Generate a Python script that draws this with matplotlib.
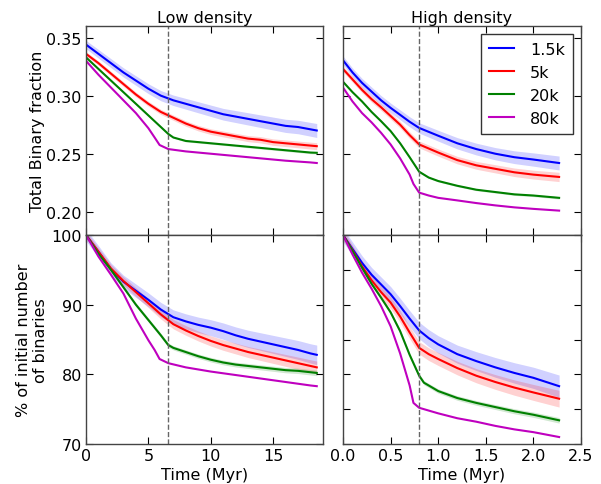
import numpy as np
import matplotlib
matplotlib.use("Agg")
import matplotlib.pyplot as plt
from matplotlib.ticker import MultipleLocator

labels = ["1.5k", "5k", "20k", "80k"]
colors = ["#0000ff", "#ff0000", "#008000", "#bf00bf"]
band_alpha = [0.18, 0.18, 0.18, 0.0]

# ---------- Low density: binary fraction ----------
lt_bf = [
    [0, 1, 2, 3, 4, 5, 6, 7, 8, 9, 10, 11, 12, 13, 14, 15, 16, 17, 18, 18.5],
    [0, 1, 2, 3, 4, 5, 6, 7, 8, 9, 10, 11, 12, 13, 14, 15, 16, 17, 18, 18.5],
    [0, 1, 2, 3, 4, 5, 6, 6.6, 7, 8, 9, 10, 11, 12, 13, 14, 15, 16, 17, 18, 18.5],
    [0, 1, 2, 3, 4, 5, 5.5, 5.9, 6.6, 8, 10, 12, 14, 16, 18, 18.5],
]
low_bf = [
    [0.344, 0.336, 0.328, 0.320, 0.313, 0.306, 0.300, 0.296, 0.293, 0.290, 0.287,
     0.284, 0.282, 0.280, 0.278, 0.276, 0.274, 0.273, 0.271, 0.270],
    [0.336, 0.328, 0.319, 0.310, 0.301, 0.293, 0.286, 0.281, 0.276, 0.272, 0.269,
     0.267, 0.265, 0.263, 0.262, 0.260, 0.259, 0.258, 0.257, 0.2565],
    [0.333, 0.323, 0.313, 0.303, 0.293, 0.283, 0.273, 0.267, 0.264, 0.261, 0.260,
     0.259, 0.258, 0.257, 0.256, 0.255, 0.254, 0.253, 0.252, 0.251, 0.2508],
    [0.330, 0.318, 0.307, 0.296, 0.285, 0.272, 0.264, 0.2575, 0.254, 0.252, 0.250,
     0.248, 0.246, 0.244, 0.2425, 0.242],
]
low_bf_err = [0.006, 0.003, 0.001, 0.0]

# ---------- Low density: % of initial binaries ----------
low_pc = [
    [100, 97.6, 95.1, 93.3, 92.0, 90.7, 89.3, 88.2, 87.6, 87.1, 86.7,
     86.2, 85.6, 85.1, 84.7, 84.3, 83.9, 83.5, 83.0, 82.8],
    [100, 97.6, 95.2, 93.4, 91.8, 90.2, 88.6, 87.2, 86.3, 85.5, 84.8,
     84.2, 83.7, 83.2, 82.8, 82.4, 82.0, 81.6, 81.2, 81.0],
    [100, 97.3, 95.0, 92.5, 90.0, 87.8, 85.6, 84.2, 83.8, 83.2, 82.6,
     82.1, 81.7, 81.4, 81.2, 81.0, 80.8, 80.6, 80.5, 80.3, 80.2],
    [100, 96.9, 94.3, 91.6, 88.0, 84.9, 83.5, 82.2, 81.6, 81.0, 80.4,
     79.9, 79.4, 78.9, 78.4, 78.3],
]
low_pc_err = [1.4, 0.9, 0.4, 0.0]

# ---------- High density: binary fraction ----------
ht_bf = [
    [0, 0.1, 0.2, 0.3, 0.4, 0.5, 0.6, 0.7, 0.8, 1.0, 1.2, 1.4, 1.6, 1.8, 2.0, 2.27],
    [0, 0.1, 0.2, 0.3, 0.4, 0.5, 0.6, 0.7, 0.8, 1.0, 1.2, 1.4, 1.6, 1.8, 2.0, 2.27],
    [0, 0.1, 0.2, 0.3, 0.4, 0.5, 0.6, 0.7, 0.8, 0.9, 1.0, 1.2, 1.4, 1.6, 1.8, 2.0, 2.27],
    [0, 0.1, 0.2, 0.3, 0.4, 0.5, 0.6, 0.7, 0.74, 0.8, 0.9, 1.0, 1.2, 1.4, 1.6, 1.8, 2.0, 2.27],
]
high_bf = [
    [0.3305, 0.320, 0.311, 0.3035, 0.296, 0.2895, 0.2835, 0.2775, 0.2722, 0.2655, 0.259,
     0.254, 0.250, 0.247, 0.245, 0.242],
    [0.323, 0.314, 0.305, 0.297, 0.290, 0.2825, 0.275, 0.266, 0.258, 0.251, 0.2445,
     0.240, 0.237, 0.234, 0.232, 0.230],
    [0.312, 0.303, 0.295, 0.286, 0.278, 0.2695, 0.259, 0.247, 0.2345, 0.2295, 0.2265,
     0.2224, 0.219, 0.217, 0.215, 0.214, 0.212],
    [0.307, 0.295, 0.285, 0.277, 0.268, 0.258, 0.246, 0.232, 0.224, 0.2165, 0.214,
     0.212, 0.2098, 0.2075, 0.2055, 0.2038, 0.2025, 0.201],
]
high_bf_err = [0.006, 0.004, 0.001, 0.0]

# ---------- High density: % of initial binaries ----------
hp_t = [
    [0, 0.1, 0.2, 0.3, 0.4, 0.5, 0.6, 0.7, 0.8, 0.9, 1.0, 1.2, 1.4, 1.6, 1.8, 2.0, 2.27],
    [0, 0.1, 0.2, 0.3, 0.4, 0.5, 0.6, 0.7, 0.8, 0.9, 1.0, 1.2, 1.4, 1.6, 1.8, 2.0, 2.27],
    [0, 0.1, 0.2, 0.3, 0.4, 0.5, 0.6, 0.7, 0.8, 0.85, 1.0, 1.2, 1.4, 1.6, 1.8, 2.0, 2.27],
    [0, 0.1, 0.2, 0.3, 0.4, 0.5, 0.6, 0.7, 0.74, 0.8, 0.9, 1.0, 1.2, 1.4, 1.6, 1.8, 2.0, 2.27],
]
high_pc = [
    [100, 98.0, 96.0, 94.3, 92.9, 91.5, 89.8, 88.0, 86.3, 85.2, 84.3, 82.9, 81.9,
     81.0, 80.2, 79.5, 78.3],
    [100, 97.8, 95.5, 93.5, 91.8, 90.3, 88.3, 86.0, 83.8, 82.9, 82.2, 80.9, 79.8,
     78.9, 78.1, 77.4, 76.5],
    [100, 97.7, 95.3, 93.0, 91.0, 88.9, 86.2, 82.8, 79.8, 78.8, 77.6, 76.6, 75.9,
     75.3, 74.7, 74.2, 73.4],
    [100, 97.2, 94.6, 92.3, 89.8, 86.9, 83.0, 78.4, 75.9, 75.2, 74.8, 74.4, 73.7,
     73.2, 72.6, 72.1, 71.7, 71.0],
]
high_pc_err = [1.6, 1.2, 0.4, 0.0]

t_low_mark = 6.6
t_high_mark = 0.80

FS = 11.5
plt.rcParams.update({
    "font.family": "DejaVu Sans",
    "font.size": FS,
    "xtick.direction": "in",
    "ytick.direction": "in",
    "xtick.top": True,
    "ytick.right": True,
    "xtick.major.size": 5,
    "ytick.major.size": 5,
    "xtick.major.pad": 3,
    "ytick.major.pad": 3,
    "axes.linewidth": 1.0,
    "axes.edgecolor": "#444444",
})

fig = plt.figure(figsize=(6.01, 4.85), dpi=100)
L1, R1 = 86 / 601, 323 / 601
L2, R2 = 343 / 601, 581 / 601
T, M, B = 1 - 27 / 485, 1 - 236 / 485, 1 - 445 / 485
ax_tl = fig.add_axes([L1, M, R1 - L1, T - M])
ax_tr = fig.add_axes([L2, M, R2 - L2, T - M])
ax_bl = fig.add_axes([L1, B, R1 - L1, M - B])
ax_br = fig.add_axes([L2, B, R2 - L2, M - B])


def draw(ax, ts, ys, errs):
    for t, y, e, c, a, lab in zip(ts, ys, errs, colors, band_alpha, labels):
        t = np.asarray(t, float)
        y = np.asarray(y, float)
        if e > 0:
            w = e * (0.6 + 0.4 * t / t.max())
            ax.fill_between(t, y - w, y + w, color=c, alpha=a, lw=0)
        ax.plot(t, y, color=c, lw=1.5, label=lab)


draw(ax_tl, lt_bf, low_bf, low_bf_err)
draw(ax_bl, lt_bf, low_pc, low_pc_err)
draw(ax_tr, ht_bf, high_bf, high_bf_err)
draw(ax_br, hp_t, high_pc, high_pc_err)

for ax in (ax_tl, ax_bl):
    ax.set_xlim(0, 19)
    ax.set_xticks([0, 5, 10, 15])
    ax.axvline(t_low_mark, color="0.4", ls="--", lw=1)
for ax in (ax_tr, ax_br):
    ax.set_xlim(0, 2.5)
    ax.xaxis.set_major_locator(MultipleLocator(0.5))
    ax.axvline(t_high_mark, color="0.4", ls="--", lw=1)
for ax in (ax_tl, ax_tr):
    ax.set_yticks([0.20, 0.25, 0.30, 0.35])
    ax.set_ylim(0.18, 0.36)
    ax.tick_params(labelbottom=False)
for ax in (ax_bl, ax_br):
    ax.set_ylim(70, 100)
    ax.set_xlabel("Time (Myr)", labelpad=3)
ax_bl.yaxis.set_major_locator(MultipleLocator(10))
ax_br.yaxis.set_major_locator(MultipleLocator(5))
ax_tr.tick_params(labelleft=False)
ax_br.tick_params(labelleft=False)

ax_tl.set_title("Low density", fontsize=FS, pad=3)
ax_tr.set_title("High density", fontsize=FS, pad=3)
ax_tl.set_ylabel("Total Binary fraction")
ax_bl.set_ylabel("% of initial number\nof binaries")
ax_tl.yaxis.set_label_coords(-0.175, 0.5)
ax_bl.yaxis.set_label_coords(-0.16, 0.5)

leg = ax_tr.legend(loc="upper right", fancybox=False, framealpha=1,
                   edgecolor="#333333", fontsize=FS, handlelength=1.6,
                   borderpad=0.5, labelspacing=0.5, handletextpad=1.0,
                   borderaxespad=0.5)
leg.get_frame().set_linewidth(1.0)

fig.savefig("out.png", dpi=100, facecolor="white")
